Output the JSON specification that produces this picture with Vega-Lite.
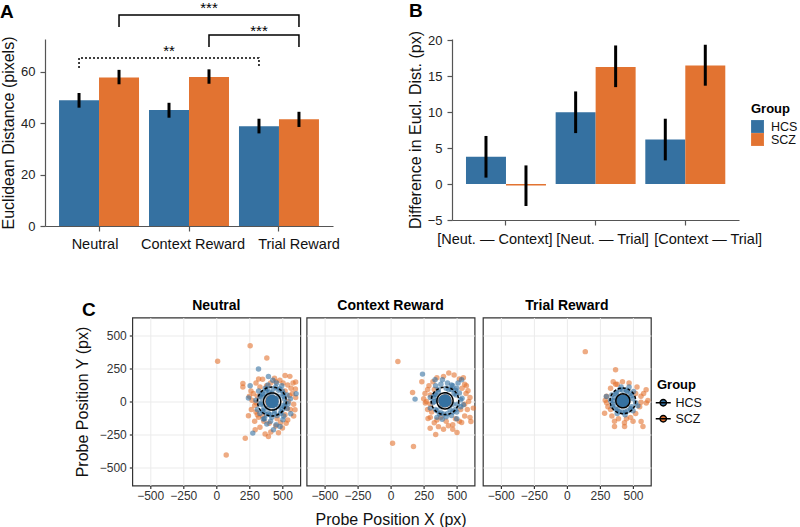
{
  "$schema": "https://vega.github.io/schema/vega-lite/v6.json",
  "padding": 0,
  "background": "white",
  "config": {
    "font": "Liberation Sans",
    "view": {"stroke": null},
    "axis": {"labelFont": "Liberation Sans", "titleFont": "Liberation Sans", "labelColor": "#222", "titleColor": "#111", "domainColor": "#555", "tickColor": "#555", "titleFontWeight": "normal", "grid": false, "domainWidth": 1.2, "tickWidth": 1.2, "labelOverlap": false},
    "legend": {"titleFont": "Liberation Sans", "labelFont": "Liberation Sans", "titleFontSize": 13, "titleFontWeight": "bold", "labelFontSize": 12.5, "titleColor": "#000", "labelColor": "#111"},
    "title": {"font": "Liberation Sans", "color": "#000"}
  },
  "datasets": {
    "a": [
      {"condition": "Neutral", "group": "HCS", "mean": 48.9, "lo": 46.0, "hi": 51.7},
      {"condition": "Neutral", "group": "SCZ", "mean": 57.7, "lo": 55.1, "hi": 60.7},
      {"condition": "Context Reward", "group": "HCS", "mean": 45.1, "lo": 42.1, "hi": 47.9},
      {"condition": "Context Reward", "group": "SCZ", "mean": 57.9, "lo": 55.3, "hi": 60.9},
      {"condition": "Trial Reward", "group": "HCS", "mean": 38.8, "lo": 36.0, "hi": 41.7},
      {"condition": "Trial Reward", "group": "SCZ", "mean": 41.5, "lo": 38.5, "hi": 44.4}
    ],
    "brk": [
      {"id": "b1", "ord": 1, "condition": "Neutral", "group": "SCZ", "y": 77.4},
      {"id": "b1", "ord": 2, "condition": "Neutral", "group": "SCZ", "y": 82.0},
      {"id": "b1", "ord": 3, "condition": "Trial Reward", "group": "SCZ", "y": 82.0},
      {"id": "b1", "ord": 4, "condition": "Trial Reward", "group": "SCZ", "y": 77.4},
      {"id": "b2", "ord": 1, "condition": "Context Reward", "group": "SCZ", "y": 69.6},
      {"id": "b2", "ord": 2, "condition": "Context Reward", "group": "SCZ", "y": 74.3},
      {"id": "b2", "ord": 3, "condition": "Trial Reward", "group": "SCZ", "y": 74.3},
      {"id": "b2", "ord": 4, "condition": "Trial Reward", "group": "SCZ", "y": 69.6},
      {"id": "b3", "ord": 1, "condition": "Neutral", "group": "HCS", "y": 61.4},
      {"id": "b3", "ord": 2, "condition": "Neutral", "group": "HCS", "y": 65.3},
      {"id": "b3", "ord": 3, "condition": "Trial Reward", "group": "HCS", "y": 65.3},
      {"id": "b3", "ord": 4, "condition": "Trial Reward", "group": "HCS", "y": 61.4}
    ],
    "sig": [
      {"condition": "Context Reward", "group": "SCZ", "y": 82.9, "label": "***"},
      {"condition": "Trial Reward", "group": "HCS", "y": 74.0, "label": "***"},
      {"condition": "Context Reward", "group": "HCS", "y": 66.2, "label": "**"}
    ],
    "b": [
      {"comparison": "[Neut. — Context]", "group": "HCS", "diff": 3.8, "lo": 0.9, "hi": 6.7},
      {"comparison": "[Neut. — Context]", "group": "SCZ", "diff": -0.2, "lo": -3.05, "hi": 2.6},
      {"comparison": "[Neut. — Trial]", "group": "HCS", "diff": 10.0, "lo": 7.1, "hi": 12.9},
      {"comparison": "[Neut. — Trial]", "group": "SCZ", "diff": 16.3, "lo": 13.5, "hi": 19.3},
      {"comparison": "[Context — Trial]", "group": "HCS", "diff": 6.2, "lo": 3.3, "hi": 9.1},
      {"comparison": "[Context — Trial]", "group": "SCZ", "diff": 16.5, "lo": 13.7, "hi": 19.4}
    ],
    "ell": [
      {"panel": "N", "group": "SCZ", "x": 420, "y": 0, "r": 109},
      {"panel": "N", "group": "HCS", "x": 422, "y": 0, "r": 65},
      {"panel": "C", "group": "SCZ", "x": 411, "y": 5, "r": 104},
      {"panel": "C", "group": "HCS", "x": 411, "y": 5, "r": 61},
      {"panel": "T", "group": "SCZ", "x": 423, "y": 5, "r": 97},
      {"panel": "T", "group": "HCS", "x": 423, "y": 5, "r": 53}
    ],
    "pts": [
      {"panel":"N","group":"SCZ","x":10,"y":305},{"panel":"N","group":"SCZ","x":256,"y":422},{"panel":"N","group":"SCZ","x":382,"y":329},{"panel":"N","group":"SCZ","x":75,"y":-404},{"panel":"N","group":"SCZ","x":219,"y":-277},{"panel":"N","group":"SCZ","x":201,"y":137},{"panel":"N","group":"SCZ","x":201,"y":109},{"panel":"N","group":"SCZ","x":243,"y":-108},{"panel":"N","group":"SCZ","x":520,"y":196},{"panel":"N","group":"SCZ","x":556,"y":190},{"panel":"N","group":"SCZ","x":600,"y":147},{"panel":"N","group":"SCZ","x":595,"y":-63},{"panel":"N","group":"SCZ","x":600,"y":30},{"panel":"N","group":"SCZ","x":528,"y":-164},{"panel":"N","group":"SCZ","x":470,"y":-237},{"panel":"N","group":"SCZ","x":394,"y":-265},{"panel":"N","group":"SCZ","x":369,"y":-245},{"panel":"N","group":"SCZ","x":294,"y":-214},{"panel":"N","group":"SCZ","x":412,"y":-230},
      {"panel":"N","group":"SCZ","x":280,"y":60},{"panel":"N","group":"SCZ","x":290,"y":-30},{"panel":"N","group":"SCZ","x":300,"y":140},{"panel":"N","group":"SCZ","x":320,"y":170},{"panel":"N","group":"SCZ","x":350,"y":168},{"panel":"N","group":"SCZ","x":440,"y":175},{"panel":"N","group":"SCZ","x":480,"y":160},{"panel":"N","group":"SCZ","x":505,"y":140},{"panel":"N","group":"SCZ","x":540,"y":125},{"panel":"N","group":"SCZ","x":565,"y":100},{"panel":"N","group":"SCZ","x":580,"y":140},{"panel":"N","group":"SCZ","x":598,"y":95},{"panel":"N","group":"SCZ","x":585,"y":-20},{"panel":"N","group":"SCZ","x":560,"y":-60},{"panel":"N","group":"SCZ","x":585,"y":-110},{"panel":"N","group":"SCZ","x":540,"y":-140},{"panel":"N","group":"SCZ","x":485,"y":-160},{"panel":"N","group":"SCZ","x":450,"y":-185},{"panel":"N","group":"SCZ","x":400,"y":-165},{"panel":"N","group":"SCZ","x":360,"y":-150},{"panel":"N","group":"SCZ","x":320,"y":-120},{"panel":"N","group":"SCZ","x":300,"y":-80},{"panel":"N","group":"SCZ","x":330,"y":-195},{"panel":"N","group":"SCZ","x":290,"y":-150},{"panel":"N","group":"SCZ","x":270,"y":10},{"panel":"N","group":"SCZ","x":310,"y":40},{"panel":"N","group":"SCZ","x":330,"y":110},{"panel":"N","group":"SCZ","x":520,"y":-100},{"panel":"N","group":"SCZ","x":545,"y":0},{"panel":"N","group":"SCZ","x":555,"y":45},{"panel":"N","group":"SCZ","x":310,"y":-100},{"panel":"N","group":"SCZ","x":262,"y":80},{"panel":"N","group":"SCZ","x":450,"y":150},{"panel":"N","group":"SCZ","x":410,"y":140},{"panel":"N","group":"SCZ","x":520,"y":80},{"panel":"N","group":"SCZ","x":300,"y":-10},{"panel":"N","group":"SCZ","x":575,"y":60},{"panel":"N","group":"SCZ","x":350,"y":-110},{"panel":"N","group":"SCZ","x":500,"y":-200},{"panel":"N","group":"SCZ","x":250,"y":40},{"panel":"N","group":"SCZ","x":265,"y":-60},{"panel":"N","group":"SCZ","x":380,"y":120},{"panel":"N","group":"SCZ","x":460,"y":-130},{"panel":"N","group":"SCZ","x":530,"y":-50},
      {"panel":"C","group":"SCZ","x":55,"y":303},{"panel":"C","group":"SCZ","x":15,"y":-315},{"panel":"C","group":"SCZ","x":173,"y":-341},{"panel":"C","group":"SCZ","x":166,"y":68},{"panel":"C","group":"SCZ","x":341,"y":-250},{"panel":"C","group":"SCZ","x":502,"y":-235},{"panel":"C","group":"SCZ","x":607,"y":-151},{"panel":"C","group":"SCZ","x":625,"y":-50},{"panel":"C","group":"SCZ","x":573,"y":120},{"panel":"C","group":"SCZ","x":585,"y":82},{"panel":"C","group":"SCZ","x":299,"y":-202},{"panel":"C","group":"SCZ","x":362,"y":-190},{"panel":"C","group":"SCZ","x":437,"y":-183},{"panel":"C","group":"SCZ","x":537,"y":-159},{"panel":"C","group":"SCZ","x":283,"y":-128},{"panel":"C","group":"SCZ","x":263,"y":-12},{"panel":"C","group":"SCZ","x":236,"y":150},
      {"panel":"C","group":"SCZ","x":260,"y":60},{"panel":"C","group":"SCZ","x":270,"y":0},{"panel":"C","group":"SCZ","x":280,"y":-60},{"panel":"C","group":"SCZ","x":290,"y":120},{"panel":"C","group":"SCZ","x":300,"y":-120},{"panel":"C","group":"SCZ","x":330,"y":-160},{"panel":"C","group":"SCZ","x":400,"y":-210},{"panel":"C","group":"SCZ","x":470,"y":-175},{"panel":"C","group":"SCZ","x":520,"y":-150},{"panel":"C","group":"SCZ","x":560,"y":-110},{"panel":"C","group":"SCZ","x":580,"y":-60},{"panel":"C","group":"SCZ","x":590,"y":0},{"panel":"C","group":"SCZ","x":570,"y":60},{"panel":"C","group":"SCZ","x":560,"y":130},{"panel":"C","group":"SCZ","x":520,"y":170},{"panel":"C","group":"SCZ","x":480,"y":200},{"panel":"C","group":"SCZ","x":440,"y":215},{"panel":"C","group":"SCZ","x":400,"y":190},{"panel":"C","group":"SCZ","x":350,"y":180},{"panel":"C","group":"SCZ","x":320,"y":150},{"panel":"C","group":"SCZ","x":300,"y":-20},{"panel":"C","group":"SCZ","x":250,"y":20},{"panel":"C","group":"SCZ","x":600,"y":-120},{"panel":"C","group":"SCZ","x":550,"y":180},{"panel":"C","group":"SCZ","x":330,"y":90},{"panel":"C","group":"SCZ","x":310,"y":-80},{"panel":"C","group":"SCZ","x":560,"y":-20},{"panel":"C","group":"SCZ","x":540,"y":100},{"panel":"C","group":"SCZ","x":490,"y":-130},{"panel":"C","group":"SCZ","x":420,"y":-150},{"panel":"C","group":"SCZ","x":350,"y":-140},{"panel":"C","group":"SCZ","x":300,"y":50},{"panel":"C","group":"SCZ","x":600,"y":30},{"panel":"C","group":"SCZ","x":280,"y":90},{"panel":"C","group":"SCZ","x":470,"y":-210},{"panel":"C","group":"SCZ","x":380,"y":-120},{"panel":"C","group":"SCZ","x":530,"y":-60},
      {"panel":"T","group":"SCZ","x":139,"y":377},{"panel":"T","group":"SCZ","x":368,"y":240},{"panel":"T","group":"SCZ","x":285,"y":-88},{"panel":"T","group":"SCZ","x":360,"y":-189},{"panel":"T","group":"SCZ","x":436,"y":-189},{"panel":"T","group":"SCZ","x":561,"y":-151},{"panel":"T","group":"SCZ","x":575,"y":-189},{"panel":"T","group":"SCZ","x":599,"y":89},{"panel":"T","group":"SCZ","x":612,"y":8},{"panel":"T","group":"SCZ","x":600,"y":-12},{"panel":"T","group":"SCZ","x":368,"y":131},{"panel":"T","group":"SCZ","x":435,"y":-160},
      {"panel":"T","group":"SCZ","x":380,"y":130},{"panel":"T","group":"SCZ","x":330,"y":100},{"panel":"T","group":"SCZ","x":300,"y":40},{"panel":"T","group":"SCZ","x":310,"y":-40},{"panel":"T","group":"SCZ","x":340,"y":-110},{"panel":"T","group":"SCZ","x":390,"y":-130},{"panel":"T","group":"SCZ","x":480,"y":-120},{"panel":"T","group":"SCZ","x":520,"y":-90},{"panel":"T","group":"SCZ","x":550,"y":-40},{"panel":"T","group":"SCZ","x":560,"y":40},{"panel":"T","group":"SCZ","x":530,"y":110},{"panel":"T","group":"SCZ","x":470,"y":140},{"panel":"T","group":"SCZ","x":420,"y":150},{"panel":"T","group":"SCZ","x":500,"y":-150},{"panel":"T","group":"SCZ","x":330,"y":-60},{"panel":"T","group":"SCZ","x":300,"y":-10},{"panel":"T","group":"SCZ","x":560,"y":-5},{"panel":"T","group":"SCZ","x":450,"y":-130},{"panel":"T","group":"SCZ","x":360,"y":-150},{"panel":"T","group":"SCZ","x":580,"y":60},{"panel":"T","group":"SCZ","x":290,"y":10},{"panel":"T","group":"SCZ","x":520,"y":60},{"panel":"T","group":"SCZ","x":350,"y":150},
      {"panel":"N","group":"HCS","x":319,"y":245},{"panel":"N","group":"HCS","x":276,"y":-239},{"panel":"N","group":"HCS","x":256,"y":119},{"panel":"N","group":"HCS","x":243,"y":26},{"panel":"N","group":"HCS","x":603,"y":58},{"panel":"N","group":"HCS","x":563,"y":-93},{"panel":"N","group":"HCS","x":503,"y":-138},{"panel":"N","group":"HCS","x":482,"y":-189},{"panel":"N","group":"HCS","x":432,"y":-214},{"panel":"N","group":"HCS","x":452,"y":-176},{"panel":"N","group":"HCS","x":382,"y":-171},{"panel":"N","group":"HCS","x":356,"y":-133},{"panel":"N","group":"HCS","x":537,"y":-53},{"panel":"N","group":"HCS","x":543,"y":-17},{"panel":"N","group":"HCS","x":394,"y":189},{"panel":"N","group":"HCS","x":427,"y":160},
      {"panel":"N","group":"HCS","x":350,"y":60},{"panel":"N","group":"HCS","x":370,"y":100},{"panel":"N","group":"HCS","x":390,"y":125},{"panel":"N","group":"HCS","x":450,"y":110},{"panel":"N","group":"HCS","x":480,"y":95},{"panel":"N","group":"HCS","x":505,"y":60},{"panel":"N","group":"HCS","x":515,"y":20},{"panel":"N","group":"HCS","x":505,"y":-30},{"panel":"N","group":"HCS","x":490,"y":-75},{"panel":"N","group":"HCS","x":460,"y":-105},{"panel":"N","group":"HCS","x":420,"y":-120},{"panel":"N","group":"HCS","x":380,"y":-100},{"panel":"N","group":"HCS","x":350,"y":-70},{"panel":"N","group":"HCS","x":335,"y":-20},{"panel":"N","group":"HCS","x":340,"y":30},{"panel":"N","group":"HCS","x":360,"y":-40},{"panel":"N","group":"HCS","x":470,"y":-40},{"panel":"N","group":"HCS","x":470,"y":40},{"panel":"N","group":"HCS","x":400,"y":70},{"panel":"N","group":"HCS","x":440,"y":-70},{"panel":"N","group":"HCS","x":525,"y":-10},{"panel":"N","group":"HCS","x":535,"y":50},{"panel":"N","group":"HCS","x":300,"y":10},{"panel":"N","group":"HCS","x":310,"y":-60},{"panel":"N","group":"HCS","x":455,"y":140},{"panel":"N","group":"HCS","x":365,"y":-130},{"panel":"N","group":"HCS","x":560,"y":20},{"panel":"N","group":"HCS","x":320,"y":80},{"panel":"N","group":"HCS","x":410,"y":-150},{"panel":"N","group":"HCS","x":495,"y":120},{"panel":"N","group":"HCS","x":380,"y":40},{"panel":"N","group":"HCS","x":450,"y":20},{"panel":"N","group":"HCS","x":420,"y":60},{"panel":"N","group":"HCS","x":390,"y":-50},{"panel":"N","group":"HCS","x":330,"y":-90},{"panel":"N","group":"HCS","x":510,"y":-110},
      {"panel":"N","group":"HCS","x":510,"y":40},{"panel":"N","group":"HCS","x":500,"y":-60},{"panel":"N","group":"HCS","x":470,"y":85},{"panel":"N","group":"HCS","x":375,"y":80},{"panel":"N","group":"HCS","x":340,"y":-10},{"panel":"N","group":"HCS","x":360,"y":-75},{"panel":"N","group":"HCS","x":430,"y":95},{"panel":"N","group":"HCS","x":440,"y":-95},{"panel":"N","group":"HCS","x":395,"y":-90},{"panel":"N","group":"HCS","x":500,"y":80},{"panel":"N","group":"HCS","x":345,"y":55},{"panel":"N","group":"HCS","x":485,"y":-90},{"panel":"N","group":"HCS","x":515,"y":-40},{"panel":"N","group":"HCS","x":330,"y":40},{"panel":"N","group":"HCS","x":410,"y":-100},{"panel":"N","group":"HCS","x":385,"y":95},
      {"panel":"C","group":"HCS","x":241,"y":207},{"panel":"C","group":"HCS","x":185,"y":18},{"panel":"C","group":"HCS","x":537,"y":164},{"panel":"C","group":"HCS","x":530,"y":13},{"panel":"C","group":"HCS","x":336,"y":164},{"panel":"C","group":"HCS","x":392,"y":164},
      {"panel":"C","group":"HCS","x":340,"y":120},{"panel":"C","group":"HCS","x":380,"y":130},{"panel":"C","group":"HCS","x":430,"y":140},{"panel":"C","group":"HCS","x":470,"y":120},{"panel":"C","group":"HCS","x":500,"y":100},{"panel":"C","group":"HCS","x":520,"y":65},{"panel":"C","group":"HCS","x":540,"y":25},{"panel":"C","group":"HCS","x":530,"y":-40},{"panel":"C","group":"HCS","x":500,"y":-80},{"panel":"C","group":"HCS","x":460,"y":-105},{"panel":"C","group":"HCS","x":420,"y":-115},{"panel":"C","group":"HCS","x":370,"y":-95},{"panel":"C","group":"HCS","x":340,"y":-60},{"panel":"C","group":"HCS","x":320,"y":-10},{"panel":"C","group":"HCS","x":330,"y":50},{"panel":"C","group":"HCS","x":360,"y":90},{"panel":"C","group":"HCS","x":450,"y":-60},{"panel":"C","group":"HCS","x":480,"y":60},{"panel":"C","group":"HCS","x":300,"y":30},{"panel":"C","group":"HCS","x":390,"y":-135},{"panel":"C","group":"HCS","x":460,"y":125},{"panel":"C","group":"HCS","x":550,"y":-25},{"panel":"C","group":"HCS","x":500,"y":-130},{"panel":"C","group":"HCS","x":350,"y":-120},{"panel":"C","group":"HCS","x":440,"y":90},{"panel":"C","group":"HCS","x":380,"y":-40},{"panel":"C","group":"HCS","x":470,"y":-20},{"panel":"C","group":"HCS","x":420,"y":50},{"panel":"C","group":"HCS","x":355,"y":10},{"panel":"C","group":"HCS","x":510,"y":140},{"panel":"C","group":"HCS","x":300,"y":-50},
      {"panel":"C","group":"HCS","x":495,"y":50},{"panel":"C","group":"HCS","x":490,"y":-60},{"panel":"C","group":"HCS","x":460,"y":90},{"panel":"C","group":"HCS","x":360,"y":70},{"panel":"C","group":"HCS","x":330,"y":0},{"panel":"C","group":"HCS","x":350,"y":-70},{"panel":"C","group":"HCS","x":420,"y":100},{"panel":"C","group":"HCS","x":430,"y":-90},{"panel":"C","group":"HCS","x":380,"y":-85},{"panel":"C","group":"HCS","x":490,"y":85},{"panel":"C","group":"HCS","x":340,"y":55},{"panel":"C","group":"HCS","x":470,"y":-80},{"panel":"C","group":"HCS","x":505,"y":-20},{"panel":"C","group":"HCS","x":325,"y":30},{"panel":"C","group":"HCS","x":400,"y":-95},
      {"panel":"T","group":"HCS","x":504,"y":76},{"panel":"T","group":"HCS","x":298,"y":38},{"panel":"T","group":"HCS","x":536,"y":-33},
      {"panel":"T","group":"HCS","x":370,"y":60},{"panel":"T","group":"HCS","x":400,"y":90},{"panel":"T","group":"HCS","x":450,"y":85},{"panel":"T","group":"HCS","x":480,"y":60},{"panel":"T","group":"HCS","x":500,"y":20},{"panel":"T","group":"HCS","x":490,"y":-40},{"panel":"T","group":"HCS","x":460,"y":-70},{"panel":"T","group":"HCS","x":420,"y":-80},{"panel":"T","group":"HCS","x":380,"y":-60},{"panel":"T","group":"HCS","x":350,"y":-20},{"panel":"T","group":"HCS","x":360,"y":30},{"panel":"T","group":"HCS","x":440,"y":-100},{"panel":"T","group":"HCS","x":520,"y":-10},{"panel":"T","group":"HCS","x":330,"y":10},{"panel":"T","group":"HCS","x":470,"y":110},{"panel":"T","group":"HCS","x":410,"y":110},{"panel":"T","group":"HCS","x":380,"y":-90},{"panel":"T","group":"HCS","x":500,"y":-70},{"panel":"T","group":"HCS","x":340,"y":50},{"panel":"T","group":"HCS","x":430,"y":40},{"panel":"T","group":"HCS","x":390,"y":10},{"panel":"T","group":"HCS","x":460,"y":20},{"panel":"T","group":"HCS","x":420,"y":-30},
      {"panel":"T","group":"HCS","x":490,"y":45},{"panel":"T","group":"HCS","x":480,"y":-55},{"panel":"T","group":"HCS","x":455,"y":75},{"panel":"T","group":"HCS","x":375,"y":70},{"panel":"T","group":"HCS","x":350,"y":5},{"panel":"T","group":"HCS","x":365,"y":-55},{"panel":"T","group":"HCS","x":420,"y":85},{"panel":"T","group":"HCS","x":440,"y":-80},{"panel":"T","group":"HCS","x":395,"y":-75},{"panel":"T","group":"HCS","x":345,"y":-35}
    ]
  },
  "vconcat": [
    {
      "hconcat": [
        {
          "title": {"text": "A", "anchor": "start", "frame": "group", "dx": -45, "dy": 21, "offset": 0, "fontSize": 19, "fontWeight": "bold"},
          "width": 288,
          "height": 187,
          "layer": [
            {
              "data": {"name": "a"},
              "mark": {"type": "bar"},
              "encoding": {
                "x": {"field": "condition", "type": "nominal", "sort": ["Neutral", "Context Reward", "Trial Reward"], "scale": {"paddingInner": 0.111, "paddingOuter": 0.156},
                  "axis": {"title": null, "labelAngle": 0, "labelFontSize": 14.5, "tickSize": 5, "labelPadding": 6, "labelColor": "#111",
                    "labelOffset": {"condition": [{"test": "datum.value === 'Trial Reward'", "value": 20}, {"test": "datum.value === 'Neutral'", "value": -4}], "value": 4}}},
                "xOffset": {"field": "group", "type": "nominal", "sort": ["HCS", "SCZ"]},
                "y": {"field": "mean", "type": "quantitative", "scale": {"domain": [0, 72.7], "nice": false},
                  "axis": {"title": "Euclidean Distance (pixels)", "titleFontSize": 16, "values": [0, 20, 40, 60], "labelFontSize": 13, "tickSize": 5, "labelPadding": 5, "titlePadding": 4}},
                "color": {"field": "group", "type": "nominal", "scale": {"domain": ["HCS", "SCZ"], "range": ["#3571a1", "#e27331"]}, "legend": null}
              }
            },
            {
              "data": {"name": "a"},
              "mark": {"type": "rule", "strokeWidth": 3, "color": "#000"},
              "encoding": {
                "x": {"field": "condition", "type": "nominal", "sort": ["Neutral", "Context Reward", "Trial Reward"]},
                "xOffset": {"field": "group", "type": "nominal", "sort": ["HCS", "SCZ"]},
                "y": {"field": "lo", "type": "quantitative"},
                "y2": {"field": "hi"}
              }
            },
            {
              "data": {"name": "brk"},
              "transform": [{"filter": "datum.id !== 'b3'"}],
              "mark": {"type": "line", "strokeWidth": 1.5, "color": "#000"},
              "encoding": {
                "x": {"field": "condition", "type": "nominal", "sort": ["Neutral", "Context Reward", "Trial Reward"]},
                "xOffset": {"field": "group", "type": "nominal", "sort": ["HCS", "SCZ"]},
                "y": {"field": "y", "type": "quantitative"},
                "detail": {"field": "id"},
                "order": {"field": "ord", "type": "quantitative"}
              }
            },
            {
              "data": {"name": "brk"},
              "transform": [{"filter": "datum.id === 'b3'"}],
              "mark": {"type": "line", "strokeWidth": 1.5, "color": "#000", "strokeDash": [2, 2]},
              "encoding": {
                "x": {"field": "condition", "type": "nominal", "sort": ["Neutral", "Context Reward", "Trial Reward"]},
                "xOffset": {"field": "group", "type": "nominal", "sort": ["HCS", "SCZ"]},
                "y": {"field": "y", "type": "quantitative"},
                "detail": {"field": "id"},
                "order": {"field": "ord", "type": "quantitative"}
              }
            },
            {
              "data": {"name": "sig"},
              "mark": {"type": "text", "fontSize": 15, "baseline": "alphabetic", "align": "center", "color": "#000", "fill": "#000"},
              "encoding": {
                "x": {"field": "condition", "type": "nominal", "sort": ["Neutral", "Context Reward", "Trial Reward"]},
                "xOffset": {"field": "group", "type": "nominal", "sort": ["HCS", "SCZ"]},
                "y": {"field": "y", "type": "quantitative"},
                "text": {"field": "label"}
              }
            }
          ]
        },
        {
          "title": {"text": "B", "anchor": "start", "frame": "group", "dx": -43, "dy": -10, "offset": 0, "fontSize": 19, "fontWeight": "bold"},
          "width": 287,
          "height": 181,
          "data": {"name": "b"},
          "layer": [
            {
              "mark": {"type": "bar"},
              "encoding": {
                "x": {"field": "comparison", "type": "nominal", "sort": ["[Neut. — Context]", "[Neut. — Trial]", "[Context — Trial]"], "scale": {"paddingInner": 0.111, "paddingOuter": 0.156},
                  "axis": {"title": null, "labelAngle": 0, "labelFontSize": 14.5, "tickSize": 5, "labelPadding": 7, "labelColor": "#111",
                    "labelOffset": {"condition": [{"test": "datum.value === '[Neut. — Context]'", "value": -11}, {"test": "datum.value === '[Context — Trial]'", "value": 23}], "value": 7}}},
                "xOffset": {"field": "group", "type": "nominal", "sort": ["HCS", "SCZ"]},
                "y": {"field": "diff", "type": "quantitative", "scale": {"domain": [-5, 20.2], "nice": false, "zero": false},
                  "axis": {"title": "Difference in Eucl. Dist. (px)", "titleFontSize": 16, "tickCount": 6, "labelFontSize": 13, "tickSize": 5, "labelPadding": 5, "titlePadding": 4, "labelOverlap": false, "labelBound": false, "labelFlush": false}},
                "color": {"field": "group", "type": "nominal", "scale": {"domain": ["HCS", "SCZ"], "range": ["#3571a1", "#e27331"]},
                  "legend": {"title": "Group", "orient": "none", "legendX": 299, "legendY": 64, "symbolType": "square", "symbolSize": 165, "symbolStrokeWidth": 0, "rowPadding": 0, "labelOffset": 7, "titlePadding": 4, "labelFontSize": 12.5}}
              }
            },
            {
              "mark": {"type": "rule", "strokeWidth": 3, "color": "#000"},
              "encoding": {
                "x": {"field": "comparison", "type": "nominal", "sort": ["[Neut. — Context]", "[Neut. — Trial]", "[Context — Trial]"]},
                "xOffset": {"field": "group", "type": "nominal", "sort": ["HCS", "SCZ"]},
                "y": {"field": "lo", "type": "quantitative"},
                "y2": {"field": "hi"}
              }
            }
          ]
        }
      ],
      "spacing": 67,
      "resolve": {"scale": {"color": "independent"}}
    },
    {
      "title": {"text": "C", "anchor": "start", "frame": "group", "dx": 37, "dy": 22, "offset": 0, "fontSize": 19, "fontWeight": "bold"},
      "hconcat": [
        {"width": 24, "height": 20, "data": {"values": [{"v": 0}]}, "mark": {"type": "point", "opacity": 0}},
        {
          "width": 168, "height": 168,
          "title": {"text": "Neutral", "fontSize": 14, "fontWeight": "bold", "offset": 5},
          "view": {"stroke": "#333", "strokeWidth": 1.2},
          "layer": [
            {"data": {"name": "pts"}, "transform": [{"filter": "datum.panel === 'N'"}],
             "mark": {"type": "circle", "size": 30, "opacity": 0.6},
             "encoding": {
               "x": {"field": "x", "type": "quantitative", "scale": {"domain": [-635, 635], "nice": false, "zero": false},
                 "axis": {"title": null, "values": [-500, -250, 0, 250, 500], "tickSize": 3, "labelFontSize": 12, "labelPadding": 2, "domain": false, "grid": true, "gridColor": "#ebebeb", "tickColor": "#333", "labelColor": "#333"}},
               "y": {"field": "y", "type": "quantitative", "scale": {"domain": [-635, 635], "nice": false, "zero": false},
                 "axis": {"title": "Probe Position Y (px)", "titleFontSize": 16, "values": [-500, -250, 0, 250, 500], "tickSize": 3, "labelFontSize": 12, "labelPadding": 3, "domain": false, "grid": true, "gridColor": "#ebebeb", "tickColor": "#333", "labelColor": "#333", "titlePadding": 9}},
               "color": {"field": "group", "type": "nominal", "scale": {"domain": ["HCS", "SCZ"], "range": ["#3571a1", "#e27331"]},
                 "legend": {"title": "Group", "orient": "none", "legendX": 612, "legendY": 61, "symbolType": "M-1.5,0H1.5M0.65,0A0.65,0.65,0,1,1,-0.65,0A0.65,0.65,0,1,1,0.65,0Z", "symbolSize": 100, "symbolStrokeColor": "#000", "symbolStrokeWidth": 1.3, "symbolOpacity": 1, "labelOffset": 6, "rowPadding": 3, "titlePadding": 5}}
             }},
            {"data": {"name": "ell"}, "transform": [{"filter": "datum.panel === 'N'"}],
             "mark": {"type": "circle", "size": 180, "opacity": 1},
             "encoding": {"x": {"field": "x", "type": "quantitative"}, "y": {"field": "y", "type": "quantitative"}, "color": {"field": "group", "type": "nominal"}}},
            {"data": {"name": "ell"}, "transform": [{"filter": "datum.panel === 'N'"}],
             "mark": {"type": "point", "filled": false, "color": "#000", "strokeWidth": 1.5, "opacity": 1},
             "encoding": {"x": {"field": "x", "type": "quantitative"}, "y": {"field": "y", "type": "quantitative"},
               "size": {"field": "r", "type": "quantitative", "scale": {"type": "pow", "exponent": 2, "domain": [0, 100], "range": [0, 700], "zero": true}, "legend": null},
               "strokeDash": {"field": "group", "type": "nominal", "scale": {"domain": ["HCS", "SCZ"], "range": [[1, 0], [3, 2]]}, "legend": null}}}
          ]
        },
        {
          "width": 168, "height": 168,
          "title": {"text": "Context Reward", "fontSize": 14, "fontWeight": "bold", "offset": 5},
          "view": {"stroke": "#333", "strokeWidth": 1.2},
          "layer": [
            {"data": {"name": "pts"}, "transform": [{"filter": "datum.panel === 'C'"}],
             "mark": {"type": "circle", "size": 30, "opacity": 0.6},
             "encoding": {
               "x": {"field": "x", "type": "quantitative", "scale": {"domain": [-635, 635], "nice": false, "zero": false},
                 "axis": {"title": "Probe Position X (px)", "titleFontSize": 16, "titlePadding": 10, "values": [-500, -250, 0, 250, 500], "tickSize": 3, "labelFontSize": 12, "labelPadding": 2, "domain": false, "grid": true, "gridColor": "#ebebeb", "tickColor": "#333", "labelColor": "#333"}},
               "y": {"field": "y", "type": "quantitative", "scale": {"domain": [-635, 635], "nice": false, "zero": false},
                 "axis": {"title": null, "labels": false, "ticks": false, "domain": false, "grid": true, "gridColor": "#ebebeb", "values": [-500, -250, 0, 250, 500]}},
               "color": {"field": "group", "type": "nominal"}
             }},
            {"data": {"name": "ell"}, "transform": [{"filter": "datum.panel === 'C'"}],
             "mark": {"type": "circle", "size": 180, "opacity": 1},
             "encoding": {"x": {"field": "x", "type": "quantitative"}, "y": {"field": "y", "type": "quantitative"}, "color": {"field": "group", "type": "nominal"}}},
            {"data": {"name": "ell"}, "transform": [{"filter": "datum.panel === 'C'"}],
             "mark": {"type": "point", "filled": false, "color": "#000", "strokeWidth": 1.5, "opacity": 1},
             "encoding": {"x": {"field": "x", "type": "quantitative"}, "y": {"field": "y", "type": "quantitative"},
               "size": {"field": "r", "type": "quantitative", "legend": null},
               "strokeDash": {"field": "group", "type": "nominal", "legend": null}}}
          ]
        },
        {
          "width": 168, "height": 168,
          "title": {"text": "Trial Reward", "fontSize": 14, "fontWeight": "bold", "offset": 5},
          "view": {"stroke": "#333", "strokeWidth": 1.2},
          "layer": [
            {"data": {"name": "pts"}, "transform": [{"filter": "datum.panel === 'T'"}],
             "mark": {"type": "circle", "size": 30, "opacity": 0.6},
             "encoding": {
               "x": {"field": "x", "type": "quantitative", "scale": {"domain": [-635, 635], "nice": false, "zero": false},
                 "axis": {"title": null, "values": [-500, -250, 0, 250, 500], "tickSize": 3, "labelFontSize": 12, "labelPadding": 2, "domain": false, "grid": true, "gridColor": "#ebebeb", "tickColor": "#333", "labelColor": "#333"}},
               "y": {"field": "y", "type": "quantitative", "scale": {"domain": [-635, 635], "nice": false, "zero": false},
                 "axis": {"title": null, "labels": false, "ticks": false, "domain": false, "grid": true, "gridColor": "#ebebeb", "values": [-500, -250, 0, 250, 500]}},
               "color": {"field": "group", "type": "nominal"}
             }},
            {"data": {"name": "ell"}, "transform": [{"filter": "datum.panel === 'T'"}],
             "mark": {"type": "circle", "size": 180, "opacity": 1},
             "encoding": {"x": {"field": "x", "type": "quantitative"}, "y": {"field": "y", "type": "quantitative"}, "color": {"field": "group", "type": "nominal"}}},
            {"data": {"name": "ell"}, "transform": [{"filter": "datum.panel === 'T'"}],
             "mark": {"type": "point", "filled": false, "color": "#000", "strokeWidth": 1.5, "opacity": 1},
             "encoding": {"x": {"field": "x", "type": "quantitative"}, "y": {"field": "y", "type": "quantitative"},
               "size": {"field": "r", "type": "quantitative", "legend": null},
               "strokeDash": {"field": "group", "type": "nominal", "legend": null}}}
          ]
        }
      ],
      "spacing": 4.3
    }
  ],
  "spacing": 46.5,
  "resolve": {"scale": {"color": "independent"}}
}
